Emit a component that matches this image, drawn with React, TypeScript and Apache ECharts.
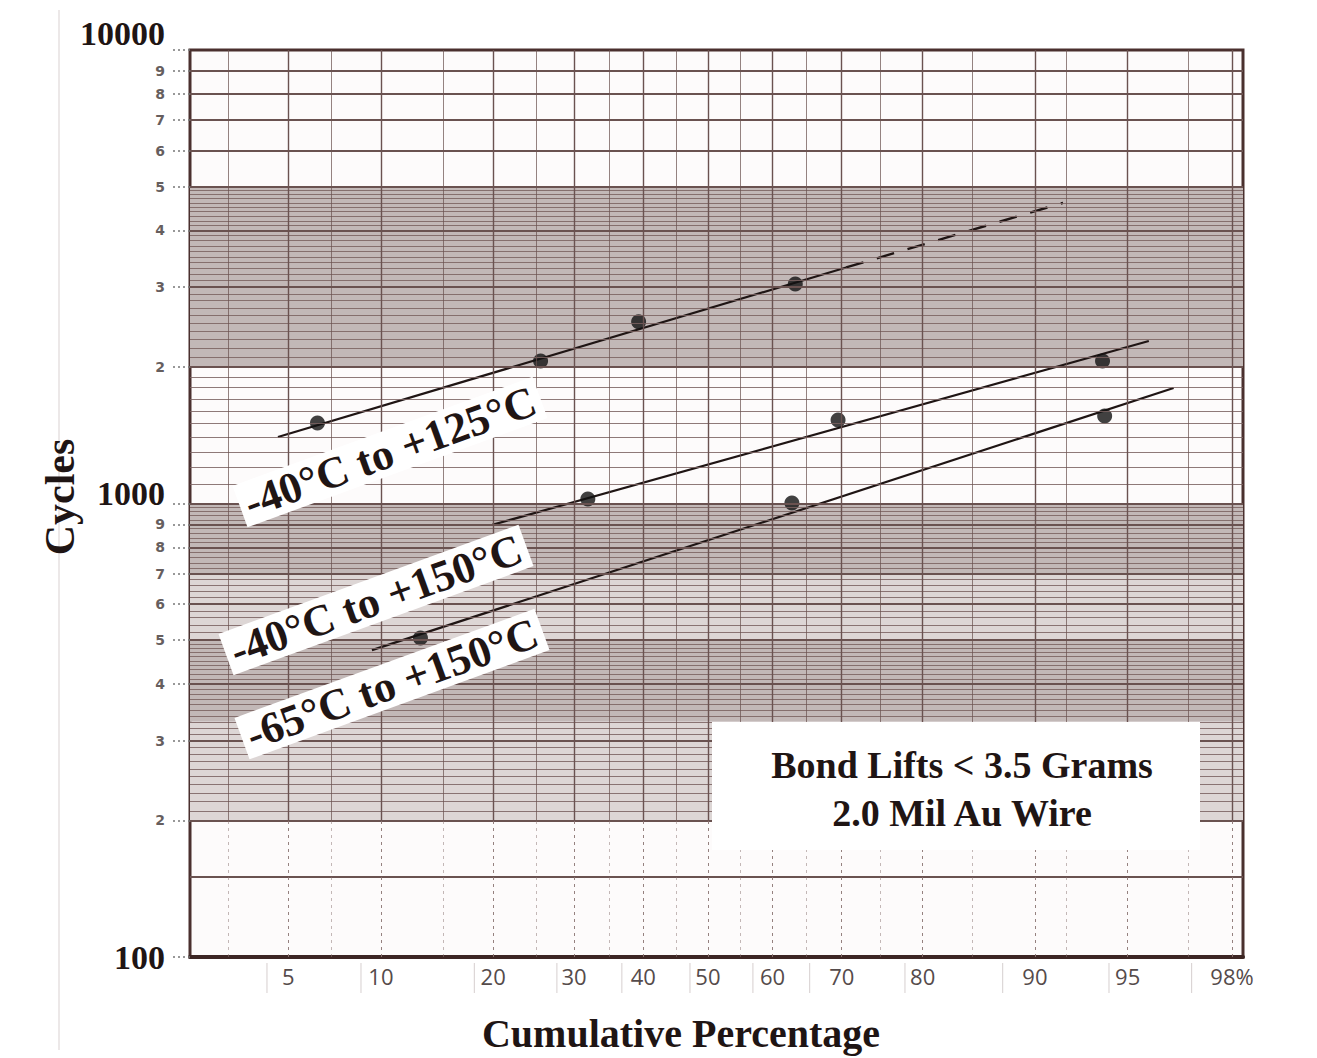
import React, { useEffect, useRef } from 'react';
import * as echarts from 'echarts';

// ---- axis ticks / labels ----
const xTickPercents = [5, 10, 20, 30, 40, 50, 60, 70, 80, 90, 95, 98];
const xTickLabels = ['5', '10', '20', '30', '40', '50', '60', '70', '80', '90', '95', '98%'];
const xMinorPercents = [3, 7, 15, 25, 35, 45, 55, 65, 75, 85, 92, 97];
const xLabelDividers = [4.2, 8.7, 18, 27.7, 36.8, 47.2, 57, 65.5, 78, 87.6, 94.2, 97.1];
const xRangePct = [2.12, 98.2];

const yLabelValues = [100, 200, 300, 400, 500, 600, 700, 800, 900, 1000, 2000, 3000, 4000, 5000, 6000, 7000, 8000, 9000, 10000];
const yLabelTexts = ['100', '2', '3', '4', '5', '6', '7', '8', '9', '1000', '2', '3', '4', '5', '6', '7', '8', '9', '10000'];
const yMajorLines = [150, 200, 300, 400, 500, 600, 700, 800, 900, 1000, 2000, 3000, 4000, 5000, 6000, 7000, 8000, 9000];
// fine ruling of the probability paper: [from, to, step]
const yFineRanges = [[200, 500, 10], [500, 1000, 20], [1000, 2000, 100], [2000, 5000, 100]];
const yDarkBands = [[2000, 5000], [700, 1000], [330, 500]];
const yLightBands = [[500, 700], [200, 330]];

// ---- data (cumulative %, cycles) ----
const pts125 = [[6.3, 1505], [25.6, 2061], [39.3, 2515], [63.4, 3048]];
const pts150 = [[31.9, 1023], [69.5, 1528], [93.9, 2061]];
const pts65 = [[13.0, 505], [62.9, 1003], [94.0, 1560]];
const fit125Solid = [[4.6, 1402], [70.6, 3315]];
const fit125Dashed = [[70.6, 3315], [91.8, 4603]];
const fit150 = [[19.9, 897], [95.8, 2282]];
const fit65 = [[9.4, 475], [96.6, 1798]];

function normInv(p: number): number {
  const a = [-3.969683028665376e1, 2.209460984245205e2, -2.759285104469687e2, 1.38357751867269e2, -3.066479806614716e1, 2.506628277459239];
  const b = [-5.447609879822406e1, 1.615858368580409e2, -1.556989798598866e2, 6.680131188771972e1, -1.328068155288572e1];
  const c = [-7.784894002430293e-3, -3.223964580411365e-1, -2.400758277161838, -2.549732539343734, 4.374664141464968, 2.938163982698783];
  const d = [7.784695709041462e-3, 3.224671290700398e-1, 2.445134137142996, 3.754408661907416];
  const pl = 0.02425;
  if (p < pl) {
    const q = Math.sqrt(-2 * Math.log(p));
    return (((((c[0] * q + c[1]) * q + c[2]) * q + c[3]) * q + c[4]) * q + c[5]) / ((((d[0] * q + d[1]) * q + d[2]) * q + d[3]) * q + 1);
  }
  if (p > 1 - pl) {
    const q = Math.sqrt(-2 * Math.log(1 - p));
    return -(((((c[0] * q + c[1]) * q + c[2]) * q + c[3]) * q + c[4]) * q + c[5]) / ((((d[0] * q + d[1]) * q + d[2]) * q + d[3]) * q + 1);
  }
  const q = p - 0.5;
  const r = q * q;
  return ((((((a[0] * r + a[1]) * r + a[2]) * r + a[3]) * r + a[4]) * r + a[5]) * q) / (((((b[0] * r + b[1]) * r + b[2]) * r + b[3]) * r + b[4]) * r + 1);
}
const zOf = (pct: number) => normInv(pct / 100);
const toXY = (arr: number[][]) => arr.map(([p, c]) => [zOf(p), c]);

const SERIF = 'Liberation Serif';
const INK = '#1f1514';
const RULE = '#6a5250';

export default function App() {
  const ref = useRef<HTMLDivElement>(null);

  useEffect(() => {
    document.body.style.margin = '0';
    document.body.style.overflow = 'hidden';
    if (!ref.current) return;
    const chart = echarts.init(ref.current, undefined, { renderer: 'svg' });

    const xTickZ = xTickPercents.map(zOf);
    const yLog = yLabelValues.map((v) => Math.log10(v));

    const fineLines: any[] = [];
    yFineRanges.forEach(([from, to, step]) => {
      for (let v = from + step; v < to; v += step) {
        fineLines.push({ yAxis: v, lineStyle: { color: '#7a6260', width: 1, type: 'solid', opacity: 0.85 } });
      }
    });
    const majorLines = yMajorLines.map((v) => ({ yAxis: v, lineStyle: { color: RULE, width: 1.8, type: 'solid' } }));
    const vertLines: any[] = [];
    xTickPercents.concat(xMinorPercents).forEach((p, i) => {
      const major = i < xTickPercents.length;
      const w = major ? 1.4 : 0.9;
      vertLines.push([
        { coord: [zOf(p), 200], lineStyle: { color: RULE, width: w, type: 'solid', opacity: major ? 1 : 0.8 } },
        { coord: [zOf(p), 10000] },
      ]);
      vertLines.push([
        { coord: [zOf(p), 100], lineStyle: { color: '#8a7371', width: 1, type: [3, 4], opacity: major ? 0.9 : 0.5 } },
        { coord: [zOf(p), 200] },
      ]);
    });
    const bands = [
      ...yDarkBands.map(([a, b]) => [{ yAxis: a, itemStyle: { color: '#c2b8b7', opacity: 1 } }, { yAxis: b }]),
      ...yLightBands.map(([a, b]) => [{ yAxis: a, itemStyle: { color: '#ddd6d5', opacity: 1 } }, { yAxis: b }]),
    ];

    const option: any = {
      animation: false,
      backgroundColor: '#ffffff',
      grid: {
        left: 190, top: 50, width: 1053, height: 907,
        show: true, borderColor: '#4a302e', borderWidth: 3, backgroundColor: '#fdfbfb',
      },
      xAxis: {
        type: 'value',
        min: zOf(xRangePct[0]),
        max: zOf(xRangePct[1]),
        axisLine: { show: true, onZero: false, lineStyle: { color: '#3d2624', width: 4 } },
        axisTick: { show: false },
        splitLine: { show: false },
        axisLabel: {
          customValues: xTickZ,
          formatter: (v: number) => {
            const i = xTickZ.findIndex((t) => Math.abs(t - v) < 1e-6);
            return i < 0 ? '' : xTickLabels[i];
          },
          color: '#554b4b',
          fontFamily: 'Open Sans',
          fontSize: 22,
          margin: 8,
        },
      },
      yAxis: [
        {
          type: 'log', logBase: 10, min: 100, max: 10000,
          axisLine: { show: false }, axisTick: { show: false }, axisLabel: { show: false }, splitLine: { show: false },
        },
        {
          type: 'value', min: 2, max: 4, position: 'left',
          axisLine: { show: false },
          splitLine: { show: false },
          axisTick: { show: true, customValues: yLog, length: 18, lineStyle: { type: [2, 3], color: '#777', width: 1.5 } },
          axisLabel: {
            customValues: yLog,
            margin: 25,
            formatter: (v: number) => {
              const i = yLog.findIndex((t) => Math.abs(t - v) < 1e-6);
              if (i < 0) return '';
              const val = yLabelValues[i];
              const txt = yLabelTexts[i];
              if (val === 10000) return `{top|${txt}}`;
              if (val === 1000) return `{mid|${txt}}`;
              if (val === 100) return `{big|${txt}}`;
              return `{small|${txt}}`;
            },
            rich: {
              big: { fontFamily: SERIF, fontWeight: 'bold', fontSize: 34, color: INK },
              mid: { fontFamily: SERIF, fontWeight: 'bold', fontSize: 34, color: INK, padding: [0, 0, 20, 0] },
              top: { fontFamily: SERIF, fontWeight: 'bold', fontSize: 34, color: INK, padding: [0, 0, 34, 0] },
              small: { fontFamily: 'DejaVu Sans', fontWeight: 'bold', fontSize: 14, color: '#665e5e' },
            },
          },
        },
      ],
      series: [
        {
          name: 'paper',
          type: 'line',
          yAxisIndex: 0,
          data: [],
          silent: true,
          z: 1,
          markArea: { silent: true, data: bands },
          markLine: {
            silent: true,
            symbol: ['none', 'none'],
            label: { show: false },
            data: [...fineLines, ...majorLines, ...vertLines],
          },
        },
        ...[fit125Solid, fit150, fit65].map((d) => ({
          type: 'line', yAxisIndex: 0, data: toXY(d), showSymbol: false, silent: true, z: 3,
          lineStyle: { color: INK, width: 2.2 },
        })),
        {
          type: 'line', yAxisIndex: 0, data: toXY(fit125Dashed), showSymbol: false, silent: true, z: 3,
          lineStyle: { color: INK, width: 2.4, type: [18, 14] },
        },
        ...[pts125, pts150, pts65].map((d) => ({
          type: 'scatter', yAxisIndex: 0, data: toXY(d), symbolSize: 15, z: 4,
          itemStyle: { color: '#111111' },
        })),
      ],
    };
    chart.setOption(option);

    const labelStyle = (text: string) => ({
      text, fontFamily: SERIF, fontWeight: 'bold', fontSize: 44, fill: INK,
      align: 'center', verticalAlign: 'middle', backgroundColor: '#ffffff', padding: [0, 6, 0, 6],
    });
    const deg = Math.PI / 180;
    const dividerEls = xLabelDividers.map((p) => {
      const x = chart.convertToPixel({ xAxisIndex: 0 }, zOf(p)) as number;
      return { type: 'line', z: 5, shape: { x1: x, y1: 963, x2: x, y2: 993 }, style: { stroke: '#d6cfcf', lineWidth: 1 } };
    });

    chart.setOption({
      graphic: {
        elements: [
          { type: 'line', z: 0, shape: { x1: 59, y1: 10, x2: 59, y2: 1050 }, style: { stroke: '#e6e1e1', lineWidth: 1.5 } },
          ...dividerEls,
          { type: 'text', x: 390, y: 452, rotation: 20 * deg, z: 100, style: labelStyle('-40°C to +125°C') },
          { type: 'text', x: 376, y: 600, rotation: 20 * deg, z: 100, style: labelStyle('-40°C to +150°C') },
          { type: 'text', x: 392, y: 684, rotation: 20 * deg, z: 100, style: labelStyle('-65°C to +150°C') },
          { type: 'rect', z: 100, shape: { x: 712, y: 722, width: 488, height: 128 }, style: { fill: '#ffffff' } },
          { type: 'text', x: 962, y: 765, z: 101, style: { text: 'Bond Lifts < 3.5 Grams', fontFamily: SERIF, fontWeight: 'bold', fontSize: 38, fill: INK, align: 'center', verticalAlign: 'middle' } },
          { type: 'text', x: 962, y: 813, z: 101, style: { text: '2.0 Mil Au Wire', fontFamily: SERIF, fontWeight: 'bold', fontSize: 38, fill: INK, align: 'center', verticalAlign: 'middle' } },
          { type: 'text', x: 681, y: 1033, z: 101, style: { text: 'Cumulative Percentage', fontFamily: SERIF, fontWeight: 'bold', fontSize: 40, fill: INK, align: 'center', verticalAlign: 'middle' } },
          { type: 'text', x: 60, y: 497, rotation: 90 * deg, z: 101, style: { text: 'Cycles', fontFamily: SERIF, fontWeight: 'bold', fontSize: 42, fill: INK, align: 'center', verticalAlign: 'middle' } },
        ],
      },
    });

    return () => chart.dispose();
  }, []);

  return <div ref={ref} style={{ width: 1317, height: 1058 }} />;
}
